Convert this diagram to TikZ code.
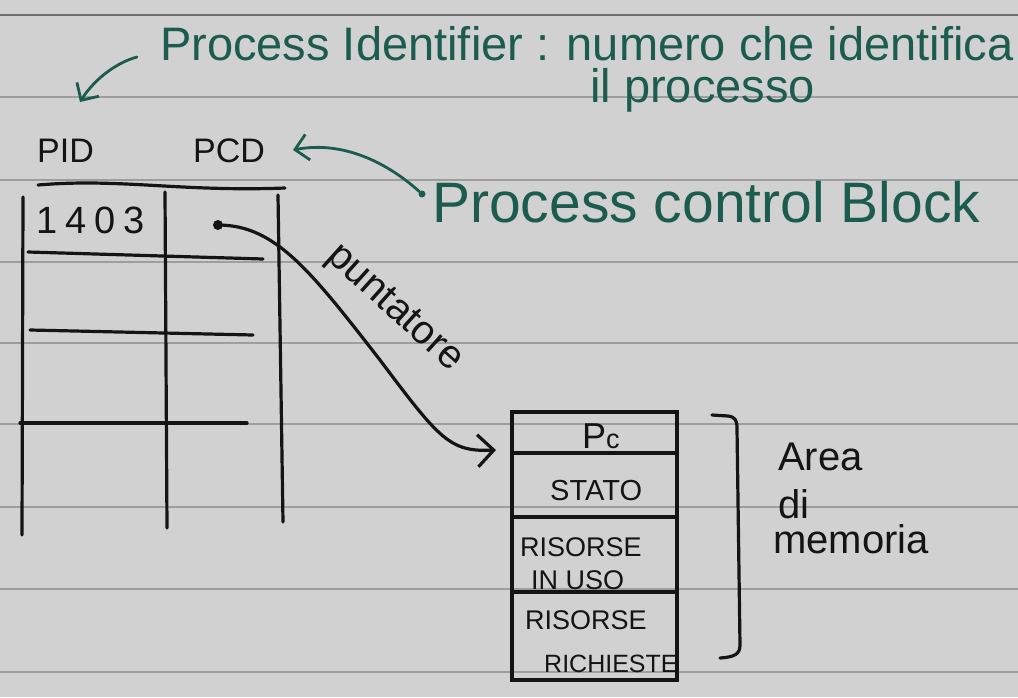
\documentclass[tikz,border=0pt]{standalone}
\usepackage{fontspec}
\setmainfont{Liberation Sans}
\usetikzlibrary{arrows.meta}
\definecolor{paper}{RGB}{209,209,209}
\definecolor{rulegray}{RGB}{158,158,158}
\definecolor{topgray}{RGB}{110,110,110}
\definecolor{ink}{RGB}{20,20,20}
\definecolor{greenink}{RGB}{28,92,78}
\newcommand\penfs[1]{\fontsize{#1}{#1}\selectfont}
\begin{document}
\begin{tikzpicture}[x=1pt,y=-1pt,
  pen/.style={draw=ink, line width=3.2pt, line cap=round, line join=round},
  gpen/.style={draw=greenink, line width=2.8pt, line cap=round, line join=round},
  txt/.style={inner sep=0pt, anchor=base west, text=ink},
  gtxt/.style={txt, text=greenink},
  cell/.style={draw=ink, line width=3.2pt, minimum width=165pt, inner sep=0pt},
  ruled/.style={draw=rulegray, line width=1.1pt},
  barb/.style={-{Straight Barb[length=#1, width=2*#1]}}]
% paper
\fill[paper] (0,0) rectangle (1018,697);
\useasboundingbox (0,0) rectangle (1018,697);
% notebook rules
\draw[draw=topgray, line width=1.8pt] (0,15) -- (1018,15);
\foreach \yy in {97,180,262,343,424,507,589,672}
  \draw[ruled] (0,\yy) -- (1018,\yy);

% notes in green ink
\node[gtxt, font=\penfs{47}] (pidnote) at (160,60) {Process Identifier : numero che identifica};
\node[gtxt, font=\penfs{47}] (pidnote2) at (590,102) {il processo};
\node[gtxt, font=\penfs{57}] (pcbnote) at (432,222) {Process control Block};

% table headers and value
\node[txt, font=\penfs{34}] (pidhead) at (37,162) {PID};
\node[txt, font=\penfs{34}] (pcdhead) at (193,162) {PCD};
\node[txt, font=\penfs{38}] (pidval) at (36,233) {1\hspace{8pt}4\hspace{8pt}0\hspace{8pt}3};

% process table
\draw[pen] (38,185) .. controls (120,178) and (180,192) .. (285,188);
\draw[pen] (23,197) -- (22,535);
\draw[pen] (165,192) -- (167,528);
\draw[pen] (278,195) -- (283,522);
\draw[pen] (28,252) -- (263,259);
\draw[pen] (30,330) -- (253,335);
\draw[pen] (20,423) -- (247,423);
\node[circle, fill=ink, inner sep=0pt, minimum size=10pt] (ptr) at (218,225) {};

% process control block
\node[cell, minimum height=41pt] (cpc) at (594.5,432.5) {};
\node[cell, minimum height=64pt] (cstato) at (594.5,485) {};
\node[cell, minimum height=75pt] (cuso) at (594.5,554.5) {};
\node[cell, minimum height=88pt] (creq) at (594.5,636) {};
\node[txt, font=\penfs{36}] (tpc) at (582,448) {P\penfs{27}c};
\node[txt, font=\penfs{29}] (tstato) at (550,500) {STATO};
\node[txt, font=\penfs{27}] (tuso1) at (520,556) {RISORSE};
\node[txt, font=\penfs{27}] (tuso2) at (531,589) {IN USO};
\node[txt, font=\penfs{27}] (treq1) at (525,629) {RISORSE};
\node[txt, font=\penfs{25}] (treq2) at (544,672) {RICHIESTE};

% memory area bracket and label
\draw[pen] (712,415) -- (728,416) .. controls (735,417) and (737,420) .. (737,428)
  -- (740,645) .. controls (740,654) and (735,657) .. (720,658);
\node[txt, font=\penfs{40}] (area1) at (778,470) {Area};
\node[txt, font=\penfs{40}] (area2) at (778,518) {di};
\node[txt, font=\penfs{40}] (area3) at (773,553) {memoria};

% pointer from the table to the block
\coordinate (pcin) at (496,450);
\draw[pen, barb=16pt] (ptr.center) .. controls (275,225) and (310,270) .. (380,360)
  .. controls (440,440) and (450,452) .. (pcin);
\node[inner sep=0pt, text=ink, rotate=-42, font=\penfs{40}] (ptrlabel) at (394,309) {puntatore};

% green note arrows
\node[circle, fill=greenink, inner sep=0pt, minimum size=7pt] (pcbdot) at (422,194) {};
\coordinate (pcdtip) at (293,150);
\draw[gpen, barb=13pt] (pcbdot) .. controls (390,165) and (345,140) .. (pcdtip);
\coordinate (pidfrom) at (137,57);
\coordinate (pidtip) at (80,102);
\draw[gpen, barb=13pt] (pidfrom) .. controls (118,62) and (95,78) .. (pidtip);
\end{tikzpicture}
\end{document}
